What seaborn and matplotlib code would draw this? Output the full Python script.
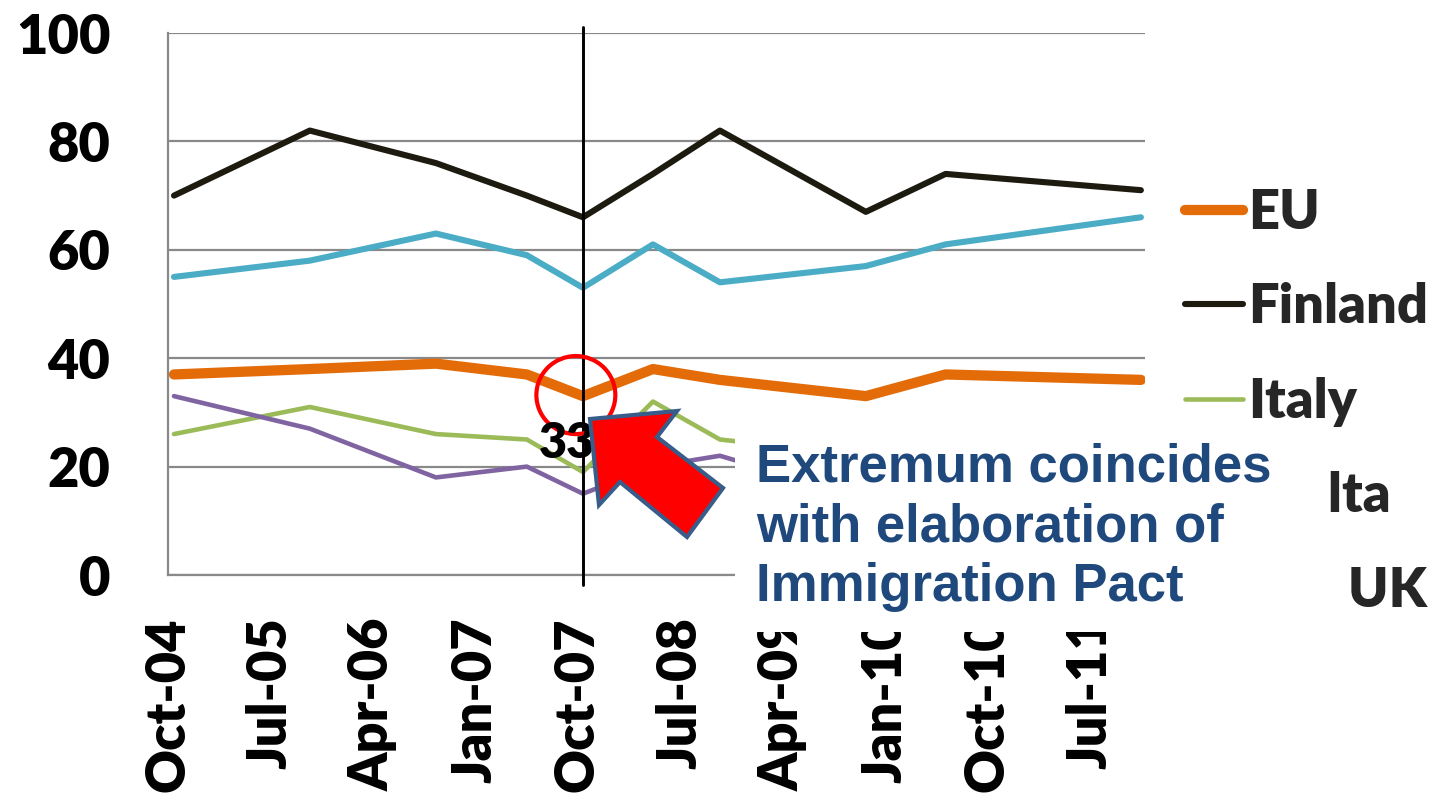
import matplotlib
matplotlib.use("Agg")
import matplotlib.pyplot as plt
from matplotlib.patches import Ellipse, Polygon, Rectangle
from matplotlib.lines import Line2D
import pandas as pd
import seaborn as sns

# Survey waves and share of respondents (%) per country
survey_dates = ["2004-10-17", "2005-10-15", "2006-09-17", "2007-05-18", "2007-10-15",
                "2008-04-19", "2008-10-15", "2009-11-09", "2010-06-10", "2011-11-14"]
eu = [37, 38, 39, 37, 33, 38, 36, 33, 37, 36]
finland = [70, 82, 76, 70, 66, 74, 82, 67, 74, 71]
italy = [26, 31, 26, 25, 19, 32, 25, 22, 24, 23]
malta = [33, 27, 18, 20, 15, 20, 22, 14, 16, 15]
uk = [55, 58, 63, 59, 53, 61, 54, 57, 61, 66]

series_names = ["EU", "Finland", "Italy", "Malta", "UK"]
series_colors = ["#E36C09", "#1D1B10", "#9BBB59", "#8064A2", "#4BACC6"]
series_widths = [7.4, 4.4, 3.3, 3.3, 4.4]

tick_labels = ["Oct-04", "Jul-05", "Apr-06", "Jan-07", "Oct-07",
               "Jul-08", "Apr-09", "Jan-10", "Oct-10", "Jul-11"]
y_ticks = [0, 20, 40, 60, 80, 100]
event_date = "2007-10-15"
callout = "Extremum coincides\nwith elaboration of\nImmigration Pact"

sns.set_style("white")
plt.rcParams["font.family"] = ["Lato", "DejaVu Sans"]
plt.rcParams["font.weight"] = "heavy"
FW = "heavy"

W, H = 1445, 797
fig = plt.figure(figsize=(W / 100, H / 100), dpi=100)
ax = fig.add_axes([168 / W, 1 - 575 / H, (1145 - 168) / W, (575 - 33) / H])

dates = pd.to_datetime(survey_dates)
values = dict(zip(series_names, [eu, finland, italy, malta, uk]))
df = pd.DataFrame({"date": dates, **values})

for name, color, lw in zip(series_names, series_colors, series_widths):
    sns.lineplot(data=df, x="date", y=name, color=color, linewidth=lw, ax=ax,
                 label=name, solid_joinstyle="round", solid_capstyle="round",
                 zorder=3)

tick_pos = pd.to_datetime(tick_labels, format="%b-%y")
ax.set_xlim(pd.Timestamp("2004-10-01"), pd.Timestamp("2011-11-25"))
ax.set_ylim(0, 100)
ax.set_xticks(tick_pos)
ax.set_xticklabels(tick_labels, rotation=90, fontsize=39, fontweight=FW)
ax.set_yticks(y_ticks)
ax.set_yticklabels([str(v) for v in y_ticks], fontsize=39, fontweight=FW)
ax.set_xlabel("")
ax.set_ylabel("")

grid_c = "#898989"
ax.yaxis.grid(True, color=grid_c, linewidth=1.6, zorder=1)
ax.xaxis.grid(False)
for side in ["top", "right"]:
    ax.spines[side].set_visible(False)
for side in ["left", "bottom"]:
    ax.spines[side].set_color(grid_c)
    ax.spines[side].set_linewidth(1.6)
ax.tick_params(axis="y", direction="out", length=14.4, width=1.6, color=grid_c,
               pad=27, labelcolor="black")
ax.tick_params(axis="x", direction="out", length=14.4, width=1.6, color=grid_c,
               pad=16, labelcolor="black")
ax.set_axisbelow(True)

# Vertical marker at the survey of interest
ev = pd.Timestamp(event_date)
ev_idx = list(dates).index(ev)
ax.axvline(ev, ymin=-0.0185, ymax=1.011, color="black", linewidth=2.1,
           clip_on=False, zorder=4)

# Circle around the EU minimum
ax.add_patch(Ellipse((ev - pd.Timedelta(days=19), eu[ev_idx] + 0.2),
                     width=pd.Timedelta(days=211) / pd.Timedelta(days=1),
                     height=14.4, fill=False, edgecolor="#FF0000",
                     linewidth=3.0, zorder=5))

# Value label under the minimum
ax.annotate(str(eu[ev_idx]), xy=(ev, eu[ev_idx]), xytext=(-11.5, -34),
            textcoords="offset points", ha="center", va="center",
            fontsize=35, fontweight=FW, color="black", zorder=6)

# Legend at the right; the UK entry text is pushed right, clear of the comment box
legend_labels = list(series_names)
legend_labels[-1] = " " * 8 + legend_labels[-1]
handles = [Line2D([0], [0], color=c, linewidth=w, solid_capstyle="round")
           for c, w in zip(series_colors, series_widths)]
ax.legend(handles, legend_labels, loc="upper left",
          bbox_to_anchor=(1185 / W, 1 - 188 / H), bbox_transform=fig.transFigure,
          frameon=False, handlelength=1.07, handletextpad=0.1,
          labelspacing=0.82, borderpad=0, borderaxespad=0,
          prop={"weight": FW, "size": 39})


def fx(px):
    return px / W


def fy(py):
    return 1 - py / H


# Block arrow pointing at the minimum
arrow_px = [(590, 419), (677, 411), (657, 437), (723, 488),
            (687, 537), (620, 482), (599, 505)]
fig.add_artist(Polygon([(fx(x), fy(y)) for x, y in arrow_px], closed=True,
                       transform=fig.transFigure, facecolor="#FF0000",
                       edgecolor="#385D8A", linewidth=3.0, joinstyle="miter",
                       zorder=5))

# Comment box
fig.add_artist(Rectangle((fx(735), fy(632)), fx(1328) - fx(735), fy(432) - fy(632),
                         transform=fig.transFigure, facecolor="white",
                         edgecolor="none", zorder=6))
fig.text(fx(756), fy(443), callout, ha="left", va="top",
         family=["Liberation Sans", "DejaVu Sans"], fontweight="bold",
         fontsize=38, color="#1F497D", linespacing=1.25, zorder=7)

fig.savefig("out.png", dpi=100)
